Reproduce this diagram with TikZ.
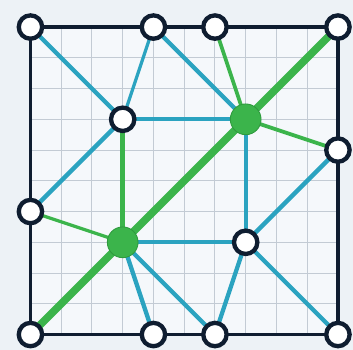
\documentclass[tikz,border=0pt]{standalone}
\usepackage{tikz}
\usetikzlibrary{backgrounds}

\definecolor{navy}{HTML}{0F1D30}
\definecolor{teal}{HTML}{2BA3C0}
\definecolor{leaf}{HTML}{3BB44B}
\definecolor{leafdark}{HTML}{2E9A3D}
\definecolor{paper}{HTML}{EDF2F6}
\definecolor{sheet}{HTML}{F5F8FB}
\definecolor{gridline}{HTML}{C3CBD4}

\begin{document}
\begin{tikzpicture}[
  open/.style={circle,draw=navy,line width=4pt,fill=white,minimum size=0.76cm,inner sep=0pt},
  hub/.style={circle,draw=leafdark,line width=0.8pt,fill=leaf,minimum size=1cm,inner sep=0pt},
  frame/.style={draw=navy,line width=3.5pt},
  wire/.style={draw=teal,line width=4pt},
  thinwire/.style={draw=teal,line width=3pt},
  main/.style={draw=leaf,line width=7pt},
  branch/.style={draw=leaf,line width=3.5pt}
]
\useasboundingbox (-0.99,-0.49) rectangle (10.49,10.88);

% border nodes
\node[open] (tl) at (0,10) {};
\node[open] (ta) at (4,10) {};
\node[open] (tb) at (6,10) {};
\node[open] (tr) at (10,10) {};
\node[open] (rt) at (10,6) {};
\node[open] (br) at (10,0) {};
\node[open] (bb) at (6,0) {};
\node[open] (ba) at (4,0) {};
\node[open] (bl) at (0,0) {};
\node[open] (lf) at (0,4) {};
% inner nodes
\node[open] (wa) at (3,7) {};
\node[open] (wb) at (7,3) {};
\node[hub] (ga) at (7,7) {};
\node[hub] (gb) at (3,3) {};

\begin{scope}[on background layer]
\fill[paper] (-0.99,-0.49) rectangle (10.49,10.88);
\fill[sheet] (0,0) rectangle (10,10);
\draw[gridline,line width=1pt] (0,0) grid (10,10);

% teal edges
\draw[wire] (tl.center) -- (wa.center);
\draw[thinwire] (ta.center) -- (wa.center);
\draw[wire] (ta.center) -- (ga.center);
\draw[wire] (wa.center) -- (ga.center);
\draw[wire] (wa.center) -- (lf.center);
\draw[wire] (ga.center) -- (wb.center);
\draw[wire] (rt.center) -- (wb.center);
\draw[wire] (wb.center) -- (br.center);
\draw[wire] (wb.center) -- (bb.center);
\draw[wire] (wb.center) -- (gb.center);
\draw[wire] (gb.center) -- (ba.center);
\draw[wire] (gb.center) -- (bb.center);

% green edges
\draw[main] (tr.center) -- (bl.center);
\draw[branch] (tb.center) -- (ga.center);
\draw[branch] (ga.center) -- (rt.center);
\draw[branch,line width=4.5pt] (wa.center) -- (gb.center);
\draw[branch,line width=3pt] (gb.center) -- (lf.center);

% frame
\draw[frame] (tl.center) -- (tr.center) -- (br.center) -- (bl.center) -- cycle;
\end{scope}
\end{tikzpicture}
\end{document}
